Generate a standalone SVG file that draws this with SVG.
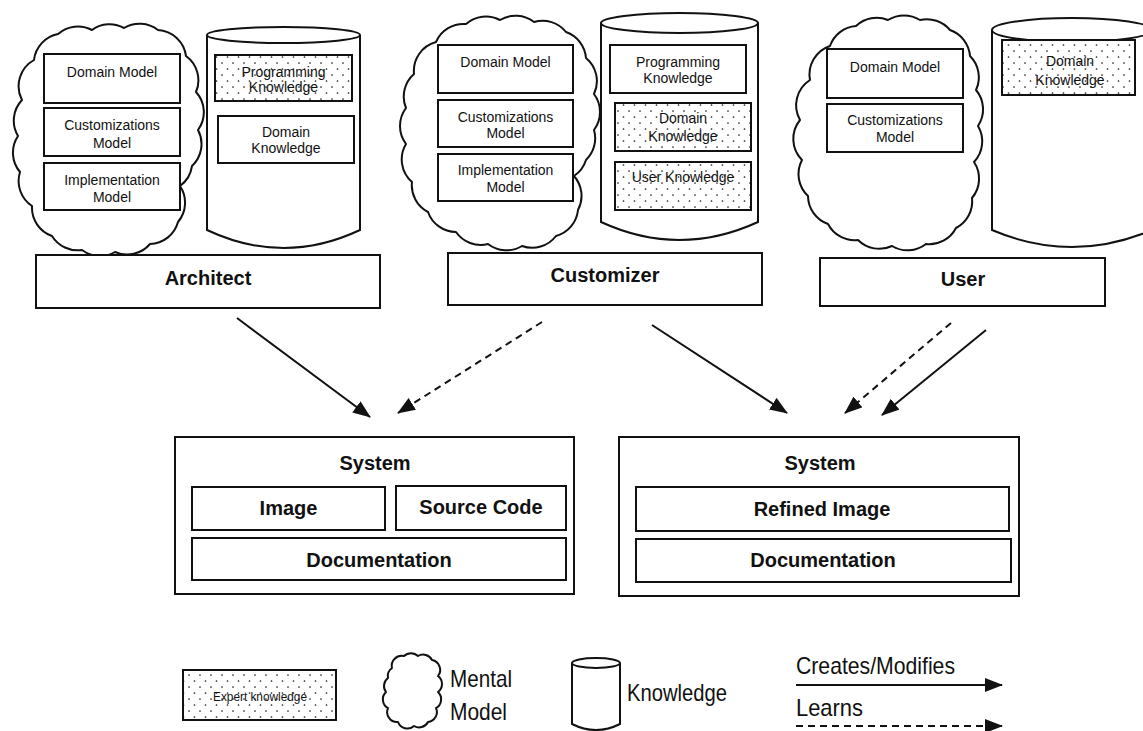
<svg xmlns="http://www.w3.org/2000/svg" width="1143" height="731" viewBox="0 0 1143 731">
  <style>
    .box { fill: #fff; stroke: #111; stroke-width: 2; }
    .dot { fill: url(#dots); stroke: #111; stroke-width: 2; }
    .cloud { fill: #fff; stroke: #111; stroke-width: 2; stroke-linejoin: round; }
    .cyl { fill: #fff; stroke: #111; stroke-width: 2; }
    .t { font-family: "Liberation Sans", Arial, sans-serif; font-size: 14px; fill: #111; text-anchor: middle; }
    .b { font-family: "Liberation Sans", Arial, sans-serif; font-size: 20px; font-weight: bold; fill: #111; text-anchor: middle; }
    .lg { font-family: "Liberation Sans Narrow", "Liberation Sans", Arial, sans-serif; font-size: 24px; fill: #111; }
    .solid { stroke: #111; stroke-width: 2; fill: none; marker-end: url(#head); }
    .dash { stroke: #111; stroke-width: 2; fill: none; stroke-dasharray: 7 5; marker-end: url(#head); }
  </style>
  <defs>
    <pattern id="dots" width="11" height="12" patternUnits="userSpaceOnUse">
      <rect width="11" height="12" fill="#fff"/>
      <circle cx="2" cy="3" r="0.85" fill="#222"/>
      <circle cx="7.5" cy="9" r="0.85" fill="#222"/>
    </pattern>
    <marker id="head" markerWidth="18" markerHeight="14" refX="17" refY="7" orient="auto" markerUnits="userSpaceOnUse">
      <path d="M0,0 L18,7 L0,14 Z" fill="#111"/>
    </marker>
  </defs>

  <rect width="1143" height="731" fill="#fff"/>

  <!-- Architect -->
  <g id="architect">
    <path class="cloud" d="M34,60 A30,30 0 0 1 58,34 A30,30 0 0 1 92,30 A30,30 0 0 1 124,28 A30,30 0 0 1 158,30 A30,30 0 0 1 186,56 A30,30 0 0 1 196,92 A30,30 0 0 1 198,130 A30,30 0 0 1 192,166 A30,30 0 0 1 180,186 A30,30 0 0 1 178,222 A30,30 0 0 1 150,244 A30,30 0 0 1 115,252 A30,30 0 0 1 82,250 A30,30 0 0 1 52,236 A30,30 0 0 1 32,206 A30,30 0 0 1 20,172 A30,30 0 0 1 18,136 A30,30 0 0 1 22,100 A30,30 0 0 1 34,60 Z"/>
    <rect class="box" x="44" y="54" width="136" height="49"/>
    <text class="t" x="112" y="77">Domain Model</text>
    <rect class="box" x="44" y="108" width="136" height="48"/>
    <text class="t" x="112" y="130">Customizations</text>
    <text class="t" x="112" y="148">Model</text>
    <rect class="box" x="44" y="163" width="136" height="47"/>
    <text class="t" x="112" y="185">Implementation</text>
    <text class="t" x="112" y="202">Model</text>

    <path class="cyl" d="M207,35 L207,230 Q283.5,266 360,230 L360,35"/>
    <ellipse class="cyl" cx="283.5" cy="35" rx="76.5" ry="8"/>
    <rect class="dot" x="215" y="55" width="137" height="46"/>
    <text class="t" x="283.5" y="77">Programming</text>
    <text class="t" x="283.5" y="92">Knowledge</text>
    <rect class="box" x="218" y="116" width="136" height="47"/>
    <text class="t" x="286" y="137">Domain</text>
    <text class="t" x="286" y="153">Knowledge</text>

    <rect class="box" x="36" y="255" width="344" height="53"/>
    <text class="b" x="208" y="285">Architect</text>
  </g>

  <!-- Customizer -->
  <g id="customizer">
    <path class="cloud" d="M414,74 A30,30 0 0 1 436,42 A30,30 0 0 1 466,24 A30,30 0 0 1 500,20 A30,30 0 0 1 534,22 A30,30 0 0 1 566,32 A30,30 0 0 1 586,58 A30,30 0 0 1 594,94 A30,30 0 0 1 594,130 A30,30 0 0 1 586,160 A30,30 0 0 1 574,176 A30,30 0 0 1 578,210 A30,30 0 0 1 556,236 A30,30 0 0 1 522,246 A30,30 0 0 1 488,244 A30,30 0 0 1 456,232 A30,30 0 0 1 428,212 A30,30 0 0 1 412,182 A30,30 0 0 1 406,144 A30,30 0 0 1 406,108 A30,30 0 0 1 414,74 Z"/>
    <rect class="box" x="438" y="45" width="135" height="48"/>
    <text class="t" x="505.5" y="67">Domain Model</text>
    <rect class="box" x="438" y="100" width="135" height="47"/>
    <text class="t" x="505.5" y="122">Customizations</text>
    <text class="t" x="505.5" y="138">Model</text>
    <rect class="box" x="438" y="154" width="135" height="47"/>
    <text class="t" x="505.5" y="175">Implementation</text>
    <text class="t" x="505.5" y="192">Model</text>

    <path class="cyl" d="M601,23 L601,222 Q679.5,258 758,222 L758,23"/>
    <ellipse class="cyl" cx="679.5" cy="23" rx="78.5" ry="10"/>
    <rect class="box" x="610" y="45" width="136" height="48"/>
    <text class="t" x="678" y="67">Programming</text>
    <text class="t" x="678" y="83">Knowledge</text>
    <rect class="dot" x="615" y="103" width="136" height="48"/>
    <text class="t" x="683" y="123">Domain</text>
    <text class="t" x="683" y="141">Knowledge</text>
    <rect class="dot" x="615" y="162" width="136" height="48"/>
    <text class="t" x="683" y="182">User Knowledge</text>

    <rect class="box" x="448" y="253" width="314" height="52"/>
    <text class="b" x="605" y="282">Customizer</text>
  </g>

  <!-- User -->
  <g id="user">
    <path class="cloud" d="M810,80 A30,30 0 0 1 830,46 A30,30 0 0 1 856,26 A30,30 0 0 1 888,20 A30,30 0 0 1 920,20 A30,30 0 0 1 950,30 A30,30 0 0 1 970,56 A30,30 0 0 1 976,90 A30,30 0 0 1 978,126 A30,30 0 0 1 974,162 A30,30 0 0 1 972,198 A30,30 0 0 1 956,228 A30,30 0 0 1 926,244 A30,30 0 0 1 892,246 A30,30 0 0 1 858,240 A30,30 0 0 1 828,224 A30,30 0 0 1 808,196 A30,30 0 0 1 802,160 A30,30 0 0 1 800,120 A30,30 0 0 1 810,80 Z"/>
    <rect class="box" x="827" y="49" width="136" height="49"/>
    <text class="t" x="895" y="72">Domain Model</text>
    <rect class="box" x="827" y="104" width="136" height="48"/>
    <text class="t" x="895" y="125">Customizations</text>
    <text class="t" x="895" y="142">Model</text>

    <path class="cyl" d="M992,30 L992,230 Q1072,264 1152,230 L1152,30"/>
    <ellipse class="cyl" cx="1072" cy="30" rx="80" ry="12"/>
    <rect class="dot" x="1002" y="40" width="133" height="55"/>
    <text class="t" x="1070" y="66">Domain</text>
    <text class="t" x="1070" y="85">Knowledge</text>

    <rect class="box" x="820" y="258" width="285" height="48"/>
    <text class="b" x="963" y="286">User</text>
  </g>

  <!-- System built by the architect and customizer -->
  <g id="system-left">
    <rect class="box" x="175" y="437" width="399" height="157"/>
    <text class="b" x="375" y="470">System</text>
    <rect class="box" x="192" y="487" width="193" height="43"/>
    <text class="b" x="288.5" y="515">Image</text>
    <rect class="box" x="396" y="486" width="170" height="44"/>
    <text class="b" x="481" y="514">Source Code</text>
    <rect class="box" x="192" y="538" width="374" height="42"/>
    <text class="b" x="379" y="567">Documentation</text>
  </g>

  <!-- System refined by the customizer and user -->
  <g id="system-right">
    <rect class="box" x="619" y="437" width="400" height="159"/>
    <text class="b" x="820" y="470">System</text>
    <rect class="box" x="636" y="487" width="373" height="44"/>
    <text class="b" x="822" y="516">Refined Image</text>
    <rect class="box" x="636" y="539" width="375" height="43"/>
    <text class="b" x="823" y="567">Documentation</text>
  </g>

  <!-- Connectors -->
  <g id="connectors">
    <line class="solid" x1="237" y1="318" x2="370" y2="417"/>
    <line class="dash" x1="542" y1="322" x2="398" y2="413"/>
    <line class="solid" x1="652" y1="325" x2="787" y2="413"/>
    <line class="dash" x1="951" y1="323" x2="845" y2="413"/>
    <line class="solid" x1="986" y1="330" x2="882" y2="415"/>
  </g>

  <!-- Legend -->
  <g id="legend">
    <rect class="dot" x="183" y="670" width="153" height="50"/>
    <text class="t" x="260" y="701" textLength="94" lengthAdjust="spacingAndGlyphs" style="font-size:12px">Expert knowledge</text>

    <path class="cloud" d="M392,668 A10,10 0 0 1 404,656 A10,10 0 0 1 418,656 A10,10 0 0 1 432,660 A10,10 0 0 1 438,676 A10,10 0 0 1 438,692 A10,10 0 0 1 436,708 A10,10 0 0 1 428,722 A10,10 0 0 1 414,726 A10,10 0 0 1 398,722 A10,10 0 0 1 388,708 A10,10 0 0 1 386,692 A10,10 0 0 1 388,678 A10,10 0 0 1 392,668 Z"/>
    <text class="lg" x="450" y="687" textLength="62" lengthAdjust="spacingAndGlyphs">Mental</text>
    <text class="lg" x="450" y="720" textLength="57" lengthAdjust="spacingAndGlyphs">Model</text>

    <path class="cyl" d="M572,663 L572,724 Q596,736 620,724 L620,663"/>
    <ellipse class="cyl" cx="596" cy="663" rx="24" ry="5"/>
    <text class="lg" x="627" y="701" textLength="100" lengthAdjust="spacingAndGlyphs">Knowledge</text>

    <text class="lg" x="796" y="674" textLength="159" lengthAdjust="spacingAndGlyphs">Creates/Modifies</text>
    <line class="solid" x1="796" y1="685" x2="1002" y2="685"/>
    <text class="lg" x="796" y="716" textLength="67" lengthAdjust="spacingAndGlyphs">Learns</text>
    <line class="dash" x1="796" y1="726" x2="1002" y2="726"/>
  </g>
</svg>
